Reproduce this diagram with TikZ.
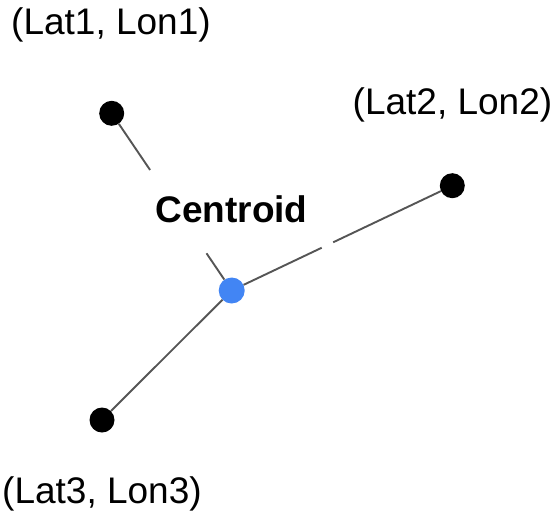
\documentclass[tikz,border=0pt]{standalone}
\usepackage{fontspec}
\setmainfont{Liberation Sans}
\definecolor{linegray}{HTML}{555555}
\definecolor{cblue}{HTML}{4285F4}
\begin{document}
\begin{tikzpicture}[x=1pt,y=-1pt,
  pt/.style={circle,fill=black,minimum size=25pt,inner sep=0pt},
  cpt/.style={circle,fill=cblue,minimum size=26pt,inner sep=0pt},
  conn/.style={draw=linegray,line width=1.9pt},
  lbl/.style={font=\fontsize{37}{44}\selectfont,anchor=base,inner sep=0pt}]
\useasboundingbox[fill=white] (0,0) rectangle (556,517);
\node[pt] (p1) at (111.7,113.3) {};
\node[pt] (p2) at (452.3,185.7) {};
\node[pt] (p3) at (102,420) {};
\node[cpt] (c) at (231.7,290.5) {};
\path (p1.center) -- (c.center) coordinate[pos=0.32] (a1) coordinate[pos=0.79] (a2);
\path (c.center) -- (p2.center) coordinate[pos=0.408] (b1) coordinate[pos=0.46] (b2);
\draw[conn] (p1) -- (a1);
\draw[conn] (a2) -- (c);
\draw[conn] (c) -- (b1);
\draw[conn] (b2) -- (p2);
\draw[conn] (c) -- (p3);
\node[lbl,font=\fontsize{37}{44}\selectfont\bfseries] (ct) at (231.5,222.5) {Centroid};
\node[lbl] (l1) at (111,34.5) {(Lat1, Lon1)};
\node[lbl] (l2) at (452.5,114.5) {(Lat2, Lon2)};
\node[lbl] (l3) at (102,503.5) {(Lat3, Lon3)};
\end{tikzpicture}
\end{document}
